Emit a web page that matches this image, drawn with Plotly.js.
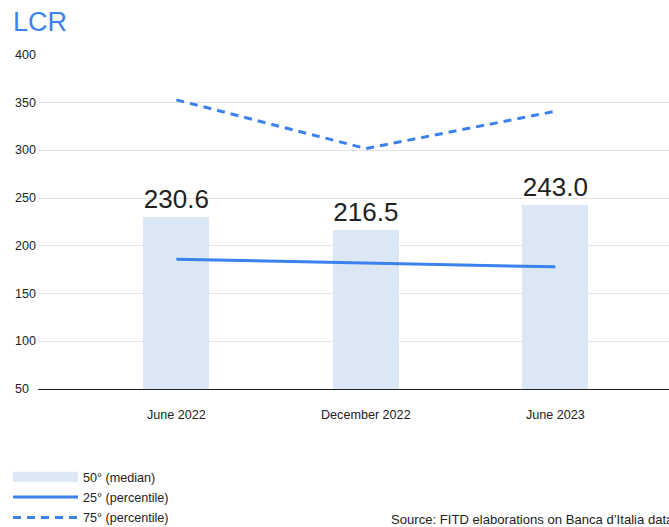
<!DOCTYPE html>
<html>
<head>
<meta charset="utf-8">
<script src="https://cdn.plot.ly/plotly-3.0.1.min.js"></script>
<style>html,body{margin:0;padding:0;background:#fff;}#chart{width:669px;height:527px;}</style>
</head>
<body>
<div id="chart"></div>
<script>
var categories = ["June 2022", "December 2022", "June 2023"];
var median50 = [230.6, 216.5, 243.0];
var pct25 = [186, 182, 178];
var pct75 = [353, 302, 341];
var yTicks = [50, 100, 150, 200, 250, 300, 350, 400];
var seriesNames = ["50° (median)", "25° (percentile)", "75° (percentile)"];

var FONT = "Liberation Sans, Arial, sans-serif";
var BLUE = "#3b82f0";
var LIGHT = "#dce7f5";

var traces = [
  {
    type: "bar", x: categories, y: median50, name: seriesNames[0],
    marker: {color: LIGHT}, width: 0.35, showlegend: false,
    texttemplate: "%{y:.1f}", textposition: "outside",
    textfont: {size: 26, color: "#222", family: FONT}, cliponaxis: false,
    hoverinfo: "skip"
  },
  {
    type: "scatter", mode: "lines", x: [null], y: [null], name: seriesNames[0],
    legendgroup: "a", line: {color: LIGHT, width: 14}, showlegend: true, hoverinfo: "skip"
  },
  {
    type: "scatter", mode: "lines", x: categories, y: pct25, name: seriesNames[1],
    legendgroup: "b", line: {color: BLUE, width: 3}
  },
  {
    type: "scatter", mode: "lines", x: categories, y: pct75, name: seriesNames[2],
    legendgroup: "c", line: {color: BLUE, width: 3, dash: "8px,6px"}
  }
];

var annotations = yTicks.map(function (v) {
  return {
    xref: "paper", yref: "y", x: -0.0396, y: v, text: String(v),
    showarrow: false, xanchor: "left", yanchor: "middle",
    font: {size: 12.5, color: "#222", family: FONT}
  };
});
annotations.push({
  xref: "paper", yref: "paper", x: (389 - 38) / 631, y: (389 - 519) / 334,
  text: "Source: FITD elaborations on Banca d’Italia data",
  showarrow: false, xanchor: "left", yanchor: "middle",
  font: {size: 13.1, color: "#222", family: FONT}
});

var layout = {
  width: 669, height: 527,
  margin: {l: 38, r: 0, t: 55, b: 138, autoexpand: false},
  paper_bgcolor: "#fff", plot_bgcolor: "#fff",
  font: {family: FONT, size: 12.6, color: "#222"},
  title: {
    text: "LCR", xref: "container", yref: "container",
    x: 13 / 669, xanchor: "left", y: 1 - 22 / 527, yanchor: "middle",
    font: {size: 27, color: BLUE, family: FONT}
  },
  xaxis: {
    type: "category", range: [-0.73, 2.6], showgrid: false,
    showline: true, linecolor: "#222", linewidth: 1,
    ticks: "outside", ticklen: 14, tickcolor: "rgba(0,0,0,0)",
    tickfont: {size: 12.6, color: "#222"}, fixedrange: true
  },
  yaxis: {
    range: [50, 400], tickvals: yTicks, showticklabels: false,
    showgrid: true, gridcolor: "#e3e3e3", gridwidth: 1,
    zeroline: false, showline: false, fixedrange: true
  },
  legend: {
    orientation: "v", x: (8 - 38) / 631, xanchor: "left",
    y: (389 - 462) / 334, yanchor: "top", itemwidth: 65,
    font: {size: 12.6, color: "#222"}, traceorder: "grouped",
    bgcolor: "rgba(0,0,0,0)", tracegroupgap: 1
  },
  annotations: annotations,
  showlegend: true,
  bargap: 0
};

Plotly.newPlot("chart", traces, layout, {displayModeBar: false, staticPlot: true});
</script>
</body>
</html>
